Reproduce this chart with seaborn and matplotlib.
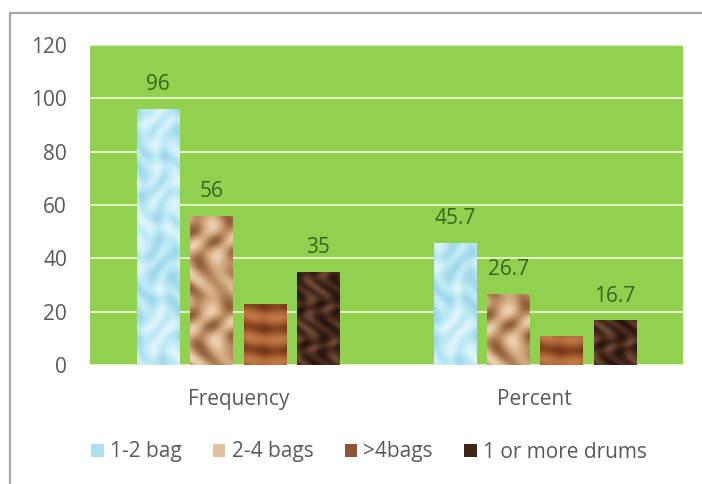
import numpy as np
import pandas as pd
import seaborn as sns
import matplotlib.pyplot as plt
from matplotlib.colors import LinearSegmentedColormap
from matplotlib.patches import Patch
from matplotlib.lines import Line2D

# --- data -------------------------------------------------------------
measures = ["Frequency", "Percent"]
quantities = ["1-2 bag", "2-4 bags", ">4bags", "1 or more drums"]
frequency = [96, 56, 23, 35]
percent = [45.7, 26.7, 11.0, 16.7]
show_label = [True, True, False, True]
value_formats = ["{:.0f}", "{:.1f}"]
y_ticks = [0, 20, 40, 60, 80, 100, 120]

df = pd.DataFrame({
    "measure": np.repeat(measures, len(quantities)),
    "quantity": quantities * len(measures),
    "value": frequency + percent,
})

# --- style ------------------------------------------------------------
sns.set_theme(style="white")
plt.rcParams["font.family"] = ["Open Sans", "DejaVu Sans"]

plot_green = "#92d050"
grid_col = "#e3f2c6"
tick_col = "#595959"
label_col = "#2f6a1c"
fsize = 15

# solid colours (legend / bar base) and texture colour ramps
solid = ["#ace0ef", "#e2c29c", "#8e5330", "#3e2619"]
ramps = [
    ["#9fd7ea", "#bde9f5", "#dff5fb"],
    ["#8f5f3a", "#c99d72", "#ecd0b0"],
    ["#743818", "#a45a2e", "#c07a48"],
    ["#26150d", "#472a1c", "#6d4a37"],
]


def texture(kind, w, h):
    x, y = np.meshgrid(np.arange(w), np.arange(h))
    if kind == 0:      # pale water droplets
        v = np.sin(x / 6 + 2 * np.sin(y / 11)) * np.cos(y / 8 + 1.5 * np.sin(x / 7))
    elif kind == 1:    # crumpled paper
        v = np.sin(x / 5 + 3 * np.sin(y / 13)) + 0.6 * np.sin((x + 2 * y) / 9)
    elif kind == 2:    # wood grain, horizontal
        v = np.sin(y / 3.5 + 1.0 * np.sin(x / 17)) + 0.25 * np.sin(x / 4)
    else:              # dark fur
        v = np.sin(x / 4 + 2 * np.sin(y / 6)) * np.sin(y / 5 + x / 10)
    v = (v - v.min()) / (np.ptp(v) + 1e-9)
    return v


fig = plt.figure(figsize=(7.02, 4.84), dpi=100)
ax = fig.add_axes([90 / 702, 119 / 484, 593 / 702, 320 / 484])
ax.set_facecolor(plot_green)

sns.barplot(data=df, x="measure", y="value", hue="quantity",
            order=measures, hue_order=quantities, palette=solid,
            width=0.72, gap=0.21, linewidth=0, legend=False, ax=ax, zorder=3)

ax.set_xlim(-0.5, 1.5)
ax.set_ylim(0, 120)
ax.set_yticks(y_ticks)
ax.set_xlabel("")
ax.set_ylabel("")
ax.yaxis.grid(True, color=grid_col, linewidth=1.4, zorder=1)
ax.xaxis.grid(False)
ax.set_axisbelow(True)
for s in ax.spines.values():
    s.set_visible(False)
ax.tick_params(axis="y", length=0, pad=16.5, labelsize=fsize, labelcolor=tick_col)
ax.tick_params(axis="x", length=0, pad=17, labelsize=fsize, labelcolor=tick_col)

# texture each bar and add value labels
for k, container in enumerate(ax.containers):
    cmap = LinearSegmentedColormap.from_list(f"tex{k}", ramps[k])
    for bar in container:
        x0, y0 = bar.get_x(), bar.get_y()
        bw, bh = bar.get_width(), bar.get_height()
        (px0, py0), (px1, py1) = ax.transData.transform([(x0, y0), (x0 + bw, y0 + bh)])
        tw, th = max(int(px1 - px0), 2), max(int(py1 - py0), 2)
        img = ax.imshow(texture(k, tw, th), cmap=cmap, origin="lower",
                        extent=(x0, x0 + bw, y0, y0 + bh), aspect="auto",
                        interpolation="bilinear", zorder=4)
        img.set_clip_path(bar)
        if show_label[k]:
            cat = int(round(x0 + bw / 2))
            ax.annotate(value_formats[cat].format(bh), (x0 + bw / 2, y0 + bh),
                        xytext=(0, 17.5), textcoords="offset points",
                        ha="center", va="center", fontsize=fsize,
                        color=label_col, zorder=5)

ax.set_xlim(-0.5, 1.5)
ax.set_ylim(0, 120)

handles = [Patch(facecolor=c, edgecolor="none") for c in solid]
fig.legend(handles, quantities, loc="center", bbox_to_anchor=(369 / 702, 32 / 484),
           ncol=4, frameon=False, fontsize=fsize, labelcolor=tick_col,
           handlelength=0.6, handleheight=0.6, handletextpad=0.3,
           columnspacing=1.5)

# chart frame (top and left edges)
border = "#a6a6a6"
fig.add_artist(Line2D([10 / 702, 1.0], [1 - 13 / 484, 1 - 13 / 484],
                      transform=fig.transFigure, color=border, linewidth=1.6))
fig.add_artist(Line2D([10 / 702, 10 / 702], [0.0, 1 - 13 / 484],
                      transform=fig.transFigure, color=border, linewidth=1.6))

fig.savefig("out.png", dpi=100, facecolor="white")
